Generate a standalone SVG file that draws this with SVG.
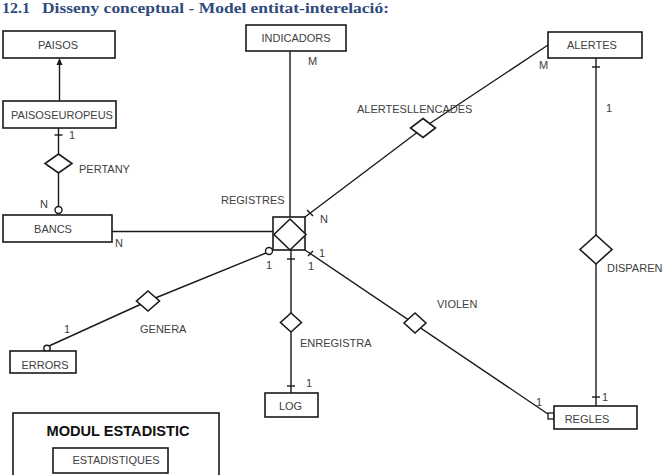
<svg xmlns="http://www.w3.org/2000/svg" width="664" height="475" viewBox="0 0 664 475">
<style>
.ent{fill:#fff;stroke:#1a1a1a;stroke-width:1.6}
.rel{fill:#fff;stroke:#1a1a1a;stroke-width:1.6}
.ln{fill:none;stroke:#1a1a1a;stroke-width:1.4}
.t{font-family:"Liberation Sans",Arial,sans-serif;font-size:11px;fill:#404040}
.c{text-anchor:middle}
.title{font-family:"Liberation Serif","Times New Roman",serif;font-size:15px;font-weight:bold;fill:#2f4a7c}
</style>
<rect width="664" height="475" fill="#fff"/>
<text class="title" x="2" y="13" textLength="28" lengthAdjust="spacingAndGlyphs">12.1</text>
<text class="title" x="42" y="13" textLength="347" lengthAdjust="spacingAndGlyphs">Disseny conceptual - Model entitat-interelació:</text>

<g id="connectors">
  <line class="ln" x1="59.5" y1="101" x2="59.5" y2="64"/>
  <polygon points="59.5,58 56.5,65 62.5,65" fill="#1a1a1a"/>
  <line class="ln" x1="58.5" y1="128" x2="58.5" y2="207"/>
  <line class="ln" x1="54.5" y1="135" x2="62.5" y2="135"/>
  <circle cx="58.5" cy="210" r="3.5" fill="#fff" stroke="#1a1a1a" stroke-width="1.4"/>
  <line class="ln" x1="112" y1="231.5" x2="273" y2="231.5"/>
  <line class="ln" x1="290" y1="51" x2="290" y2="217"/>
  <line class="ln" x1="291" y1="250" x2="291" y2="393"/>
  <line class="ln" x1="287" y1="259" x2="295" y2="259"/>
  <line class="ln" x1="287" y1="386" x2="295" y2="386"/>
  <polyline class="ln" points="548,45 423,128 305,217"/>
  <line class="ln" x1="307" y1="210" x2="313" y2="216"/>
  <line class="ln" x1="596" y1="58" x2="596" y2="406"/>
  <line class="ln" x1="592" y1="67" x2="600" y2="67"/>
  <line class="ln" x1="592" y1="397" x2="600" y2="397"/>
  <line class="ln" x1="305" y1="250" x2="548" y2="414"/>
  <line class="ln" x1="308" y1="256" x2="313" y2="251"/>
  <rect x="548" y="413" width="6" height="6" fill="#fff" stroke="#1a1a1a" stroke-width="1.3"/>
  <polyline class="ln" points="266,253 148,301 49,346"/>
  <circle cx="269" cy="251" r="3.5" fill="#fff" stroke="#1a1a1a" stroke-width="1.4"/>
  <circle cx="47" cy="348.5" r="3.2" fill="#fff" stroke="#1a1a1a" stroke-width="1.4"/>
</g>

<g id="PAISOS"><rect class="ent" x="3" y="31" width="112" height="27"/><text class="t c" x="58" y="49">PAISOS</text></g>
<g id="INDICADORS"><rect class="ent" x="246" y="25" width="100" height="26"/><text class="t c" x="296" y="42">INDICADORS</text></g>
<g id="PAISOSEUROPEUS"><rect class="ent" x="3" y="101" width="113" height="27"/><text class="t c" x="62" y="118.5">PAISOSEUROPEUS</text></g>
<g id="ALERTES"><rect class="ent" x="548" y="32" width="94" height="26"/><text class="t c" x="592" y="49">ALERTES</text></g>
<g id="BANCS"><rect class="ent" x="3" y="215" width="109" height="27"/><text class="t c" x="53" y="232.5">BANCS</text></g>
<g id="ERRORS"><rect class="ent" x="10" y="351" width="66" height="22"/><text class="t c" x="45" y="369">ERRORS</text></g>
<g id="LOG"><rect class="ent" x="265" y="393" width="53" height="24"/><text class="t c" x="290.5" y="409.5">LOG</text></g>
<g id="REGLES"><rect class="ent" x="554" y="406" width="83" height="23"/><text class="t c" x="587" y="423">REGLES</text></g>
<g id="MODUL_ESTADISTIC"><rect class="ent" x="13" y="413" width="206" height="80"/>
  <text x="118" y="435.5" text-anchor="middle" style="font-family:'Liberation Sans',Arial,sans-serif;font-size:14.6px;font-weight:bold;fill:#111">MODUL ESTADISTIC</text></g>
<g id="ESTADISTIQUES"><rect class="ent" x="53" y="448" width="115" height="25"/><text class="t c" x="116" y="464">ESTADISTIQUES</text></g>

<g id="REGISTRES"><rect class="ent" x="273" y="217" width="32" height="33"/>
  <polygon class="rel" points="290,219 306,234.5 290,250 274,234.5"/>
  <text class="t" x="221" y="204">REGISTRES</text></g>
<g id="PERTANY"><polygon class="rel" points="58.5,154 72,163.5 58.5,173 45,163.5"/><text class="t" x="79" y="173">PERTANY</text></g>
<g id="ALERTESLLENCADES"><polygon class="rel" points="423,118.5 435.5,128 423,137.5 410.5,128"/><text class="t" x="357" y="113">ALERTESLLENCADES</text></g>
<g id="DISPAREN"><polygon class="rel" points="596,235 612,249.5 596,264 580,249.5"/><text class="t" x="607" y="272">DISPAREN</text></g>
<g id="GENERA"><polygon class="rel" points="148,291 159.5,301 148,311 136.5,301"/><text class="t" x="140" y="333">GENERA</text></g>
<g id="ENREGISTRA"><polygon class="rel" points="291,313 301.5,322.5 291,332 280.5,322.5"/><text class="t" x="300" y="347">ENREGISTRA</text></g>
<g id="VIOLEN"><polygon class="rel" points="415,313 426,323 415,333 404,323"/><text class="t" x="437" y="308">VIOLEN</text></g>

<g id="cardinalities" class="t">
  <text x="308" y="65">M</text>
  <text x="539" y="69">M</text>
  <text x="69" y="139">1</text>
  <text x="40" y="208">N</text>
  <text x="115" y="247">N</text>
  <text x="320" y="223">N</text>
  <text x="319" y="257">1</text>
  <text x="308" y="270">1</text>
  <text x="266" y="269">1</text>
  <text x="64" y="333">1</text>
  <text x="306" y="387">1</text>
  <text x="606" y="112">1</text>
  <text x="602" y="401">1</text>
  <text x="536" y="406">1</text>
</g>
</svg>
